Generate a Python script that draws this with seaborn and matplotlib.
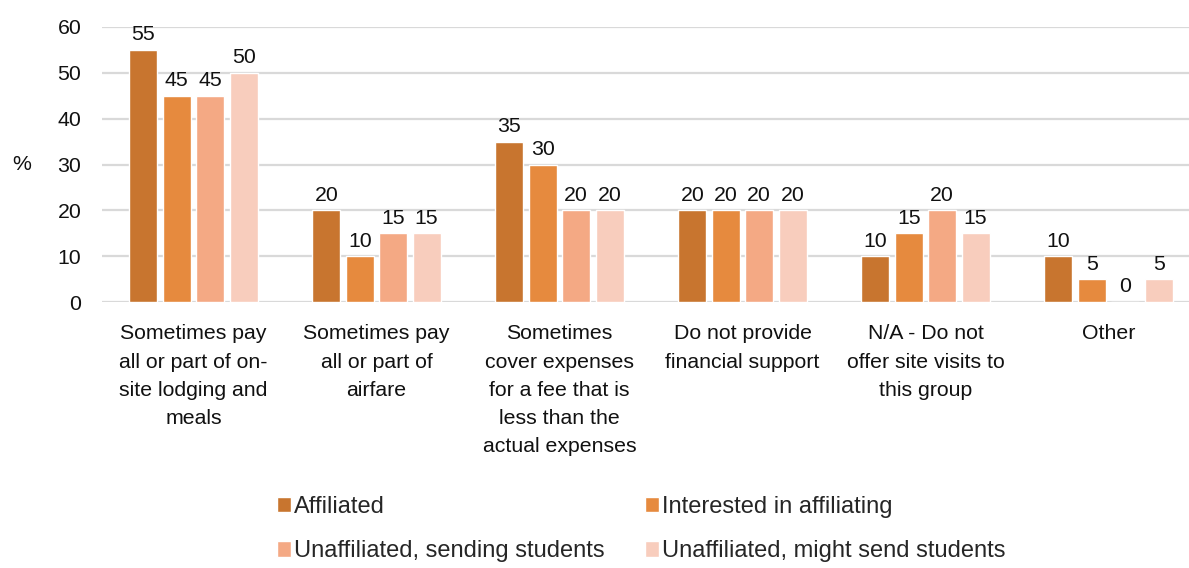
#!/usr/bin/env python3
"""Grouped bar chart: financial support for site visits, by affiliation status."""

import matplotlib as mpl
import matplotlib.pyplot as plt
import pandas as pd
import seaborn as sns

CATEGORIES = [
    "Sometimes pay\nall or part of on-\nsite lodging and\nmeals",
    "Sometimes pay\nall or part of\nairfare",
    "Sometimes\ncover expenses\nfor a fee that is\nless than the\nactual expenses",
    "Do not provide\nfinancial support",
    "N/A - Do not\noffer site visits to\nthis group",
    "Other",
]
SERIES = [
    "Affiliated",
    "Interested in affiliating",
    "Unaffiliated, sending students",
    "Unaffiliated, might send students",
]
AFFILIATED = [55, 20, 35, 20, 10, 10]
INTERESTED = [45, 10, 30, 20, 15, 5]
UNAFF_SENDING = [45, 15, 20, 20, 20, 0]
UNAFF_MIGHT = [50, 15, 20, 20, 15, 5]
Y_TICKS = [0, 10, 20, 30, 40, 50, 60]

COLORS = ["#C8752F", "#E68A3E", "#F4A984", "#F8CDBD"]

W, H = 1189, 568
FS = 15.3


def main() -> None:
    sns.set_theme(style="white")
    mpl.rcParams["font.family"] = ["Liberation Sans", "DejaVu Sans"]
    mpl.rcParams["font.size"] = FS

    rows = []
    for name, vals in zip(SERIES, [AFFILIATED, INTERESTED, UNAFF_SENDING, UNAFF_MIGHT]):
        for cat, v in zip(CATEGORIES, vals):
            rows.append({"category": cat, "series": name, "value": v})
    df = pd.DataFrame(rows)

    fig = plt.figure(figsize=(W / 100, H / 100), dpi=100)
    ax = fig.add_axes([102 / W, (H - 302) / H, (W - 102) / W, 275 / H])

    sns.barplot(data=df, x="category", y="value", hue="series", order=CATEGORIES,
                hue_order=SERIES, palette=COLORS, width=0.73, gap=0.16,
                saturation=1, ax=ax, legend=True)

    for cont in ax.containers:
        ax.bar_label(cont, fmt="%g", padding=4, fontsize=FS, color="#111111")

    ax.set_ylim(0, 60)
    ax.set_xlim(-0.5, -0.5 + (W - 102) / 183)
    ax.set_yticks(Y_TICKS)
    ax.yaxis.grid(True, color="#D9D9D9", linewidth=1.6)
    ax.set_axisbelow(True)
    for s in ax.spines.values():
        s.set_visible(False)
    ax.tick_params(axis="both", length=0, labelsize=FS, colors="#111111")
    ax.tick_params(axis="y", pad=15)
    ax.tick_params(axis="x", pad=16)
    ax.set_xticks(range(len(CATEGORIES)), CATEGORIES)
    ax.set_xlabel("")
    ax.set_ylabel("%", rotation=0, fontsize=FS, color="#111111",
                  ha="center", va="center")
    ax.yaxis.set_label_coords(-0.0736, 0.5)

    handles, labels = ax.get_legend_handles_labels()
    ax.legend_.remove()
    order = [0, 2, 1, 3]
    fig.legend([handles[i] for i in order], [labels[i] for i in order],
               loc="center", bbox_to_anchor=(641 / W, 1 - 529 / H),
               ncol=2, frameon=False, fontsize=17, handlelength=0.6,
               handleheight=0.65, handletextpad=0.12, columnspacing=1.7,
               labelspacing=0.95)

    # tick label line spacing only sticks once the ticks exist
    fig.canvas.draw()
    for tick in ax.xaxis.get_major_ticks():
        tick.label1.set_linespacing(1.62)
        tick.label1.set_verticalalignment("top")

    fig.savefig("out.png", dpi=100, facecolor="white")
    plt.close(fig)


if __name__ == "__main__":
    main()
